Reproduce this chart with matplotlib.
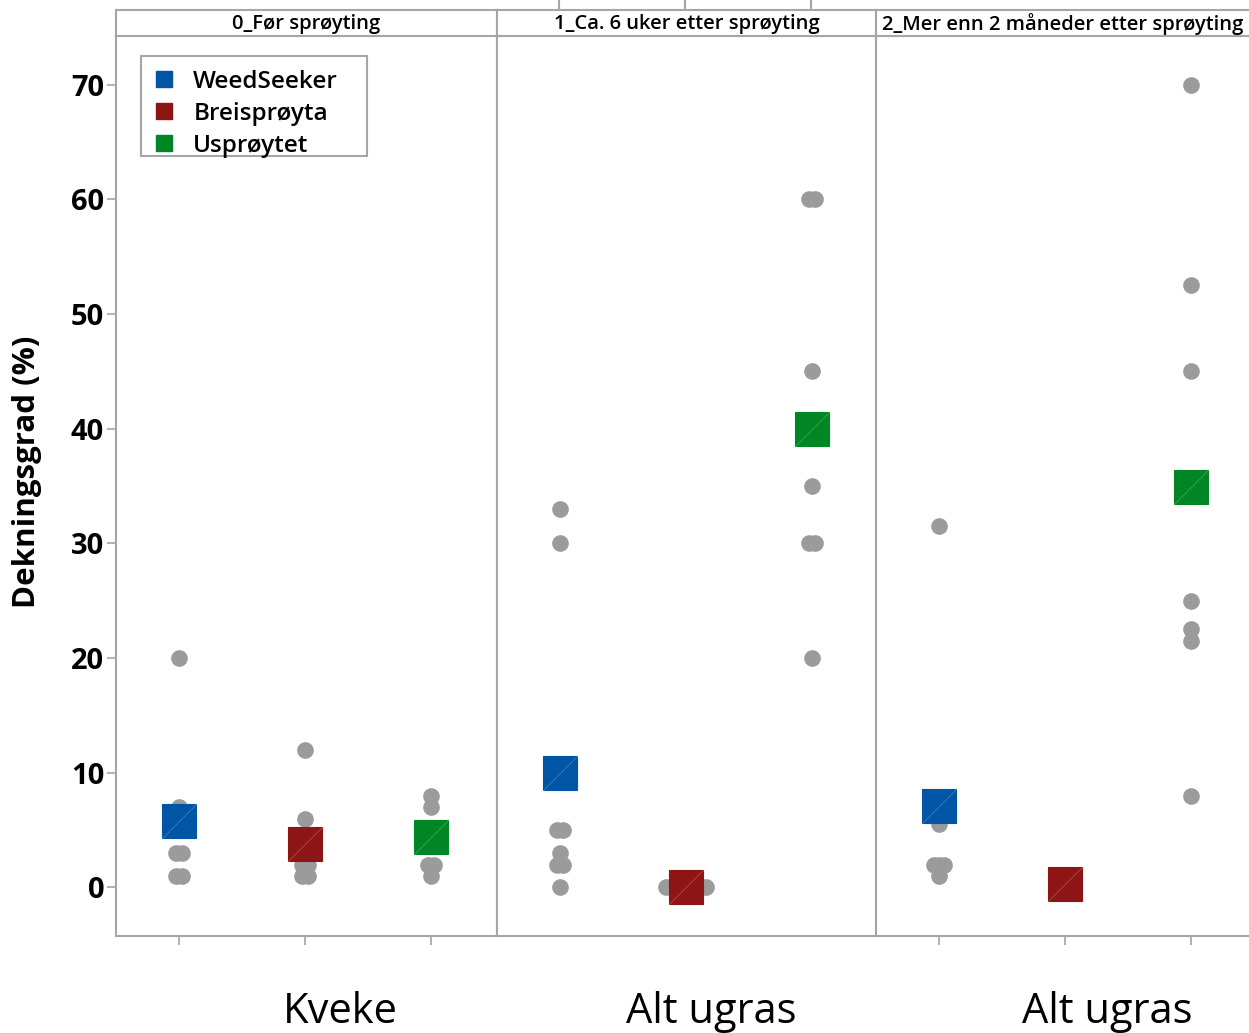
import numpy as np
import matplotlib
matplotlib.use("Agg")
import matplotlib.pyplot as plt
from matplotlib.lines import Line2D
from matplotlib.patches import Rectangle
from matplotlib.path import Path

plt.rcParams['font.family'] = ['Open Sans', 'Noto Sans', 'DejaVu Sans']

# --- data ---
PANELS = ["0_Før sprøyting", "1_Ca. 6 uker etter sprøyting", "2_Mer enn 2 måneder etter sprøyting"]
WEED_TYPES = ["Kveke", "Alt ugras", "Alt ugras"]
TREATMENTS = ["WeedSeeker", "Breisprøyta", "Usprøytet"]

# single observations (grey dots), one list per panel
WEEDSEEKER_OBS = [[20, 7, 3, 3, 1, 1],
                  [33, 30, 5, 5, 3, 2, 2, 0],
                  [31.5, 5.5, 2, 2, 2, 1]]
BREI_OBS = [[12, 6, 2, 2, 1, 1],
            [0, 0, 0, 0, 0, 0, 0, 0, 0],
            [0, 0]]
USPR_OBS = [[8, 7, 2, 2, 1],
            [60, 60, 45, 35, 30, 30, 20],
            [70, 52.5, 45, 25, 22.5, 21.5, 8]]

# mean per panel (coloured squares)
WEEDSEEKER_MEAN = [5.8, 10.0, 7.1]
BREI_MEAN = [3.8, 0.0, 0.3]
USPR_MEAN = [4.4, 40.0, 34.9]

Y_TICKS = [0, 10, 20, 30, 40, 50, 60, 70]

# --- style ---
COLORS = ['#0055A4', '#8E1515', '#008624']
DOT_COLOR = '#9B9B9B'
FRAME = '#A6A6A6'
W, H = 1249, 1033
EDGES = [116, 497, 876, 1249]
PX_PER_CAT = 126.0


def fx(px):
    return px / W


def fy(py):
    return 1 - py / H


def jitter(vals):
    """Spread identical values sideways, like the reference does."""
    vals = np.asarray(vals, dtype=float)
    offs = np.zeros(len(vals))
    for v in np.unique(vals):
        idx = np.where(vals == v)[0]
        n = len(idx)
        offs[idx] = (np.arange(n) - (n - 1) / 2) * 0.04
    return offs


diag = Path([(-0.5, -0.5), (0.5, 0.5)], [Path.MOVETO, Path.LINETO])

obs = [WEEDSEEKER_OBS, BREI_OBS, USPR_OBS]
means = [WEEDSEEKER_MEAN, BREI_MEAN, USPR_MEAN]

fig = plt.figure(figsize=(W / 100, H / 100), dpi=100)

axes = []
for p in range(3):
    left, right = EDGES[p], EDGES[p + 1]
    ax = fig.add_axes([fx(left), fy(936), (right - left) / W, (936 - 36) / H])
    axes.append(ax)
    ax.set_xlim(-0.5, -0.5 + (right - left) / PX_PER_CAT)
    ax.set_ylim(-4.23, 74.24)

    for t in range(3):
        vals = obs[t][p]
        xs = t + jitter(vals)
        ax.plot(xs, vals, 'o', color=DOT_COLOR, ms=12, mec='none', zorder=2)
        ax.plot([t], [means[t][p]], 's', color=COLORS[t], ms=25, mec=COLORS[t],
                mew=0.8, zorder=3)
        ax.plot([t], [means[t][p]], marker=diag, color='white', ms=25, mew=0.4,
                alpha=0.35, ls='none', zorder=4)

    for s in ax.spines.values():
        s.set_color(FRAME)
        s.set_linewidth(1.5)
    if p == 2:
        ax.spines['right'].set_visible(False)

    if p == 0:
        ax.set_yticks(Y_TICKS)
        ax.set_yticklabels([str(v) for v in Y_TICKS], fontsize=21, fontweight='bold')
    else:
        ax.set_yticks([])
    if p != 1:
        ax.set_xticks([0, 1, 2])
        ax.set_xticklabels([])
    else:
        ax.set_xticks([])
    ax.tick_params(axis='both', length=6.5, width=1.2, color=FRAME, pad=2)

    # header strip
    hx = fig.add_axes([fx(left), fy(36), (right - left) / W, 26 / H])
    hx.set_xticks([])
    hx.set_yticks([])
    for s in hx.spines.values():
        s.set_color(FRAME)
        s.set_linewidth(1.5)
    if p == 2:
        hx.spines['right'].set_visible(False)
    hx.text(0.5, 0.45, PANELS[p], ha='center', va='center', fontsize=14.5,
            fontweight='semibold', transform=hx.transAxes)

# little stubs above the middle header
for xpix in [559, 685, 811]:
    fig.add_artist(Line2D([fx(xpix), fx(xpix)], [fy(0), fy(10)], color=FRAME, lw=1.5))

# bottom category labels
for xpix, lab in zip([340, 711, 1107], WEED_TYPES):
    fig.text(fx(xpix), fy(1023), lab, ha='center', va='baseline', fontsize=30)

fig.text(fx(27), fy(472), "Dekningsgrad (%)", rotation=90, ha='center', va='center',
         fontsize=22.5, fontweight='bold')

# legend: entries without frame, box drawn separately (it clips the last marker)
handles = [Line2D([], [], marker='s', ls='none', color=c, ms=11.5) for c in COLORS]
leg = fig.legend(handles, TREATMENTS, loc='upper left',
                 bbox_to_anchor=(fx(152), fy(70)), bbox_transform=fig.transFigure,
                 borderaxespad=0, borderpad=0, frameon=False,
                 prop={'size': 17.5, 'weight': 'semibold'},
                 labelspacing=0.32, handlelength=1.0, handletextpad=0.7)
fig.add_artist(Rectangle((fx(141), fy(156)), (367 - 141) / W, 100 / H,
                         transform=fig.transFigure, fill=False,
                         edgecolor=FRAME, lw=1.5))

fig.savefig("out.png", dpi=100)
